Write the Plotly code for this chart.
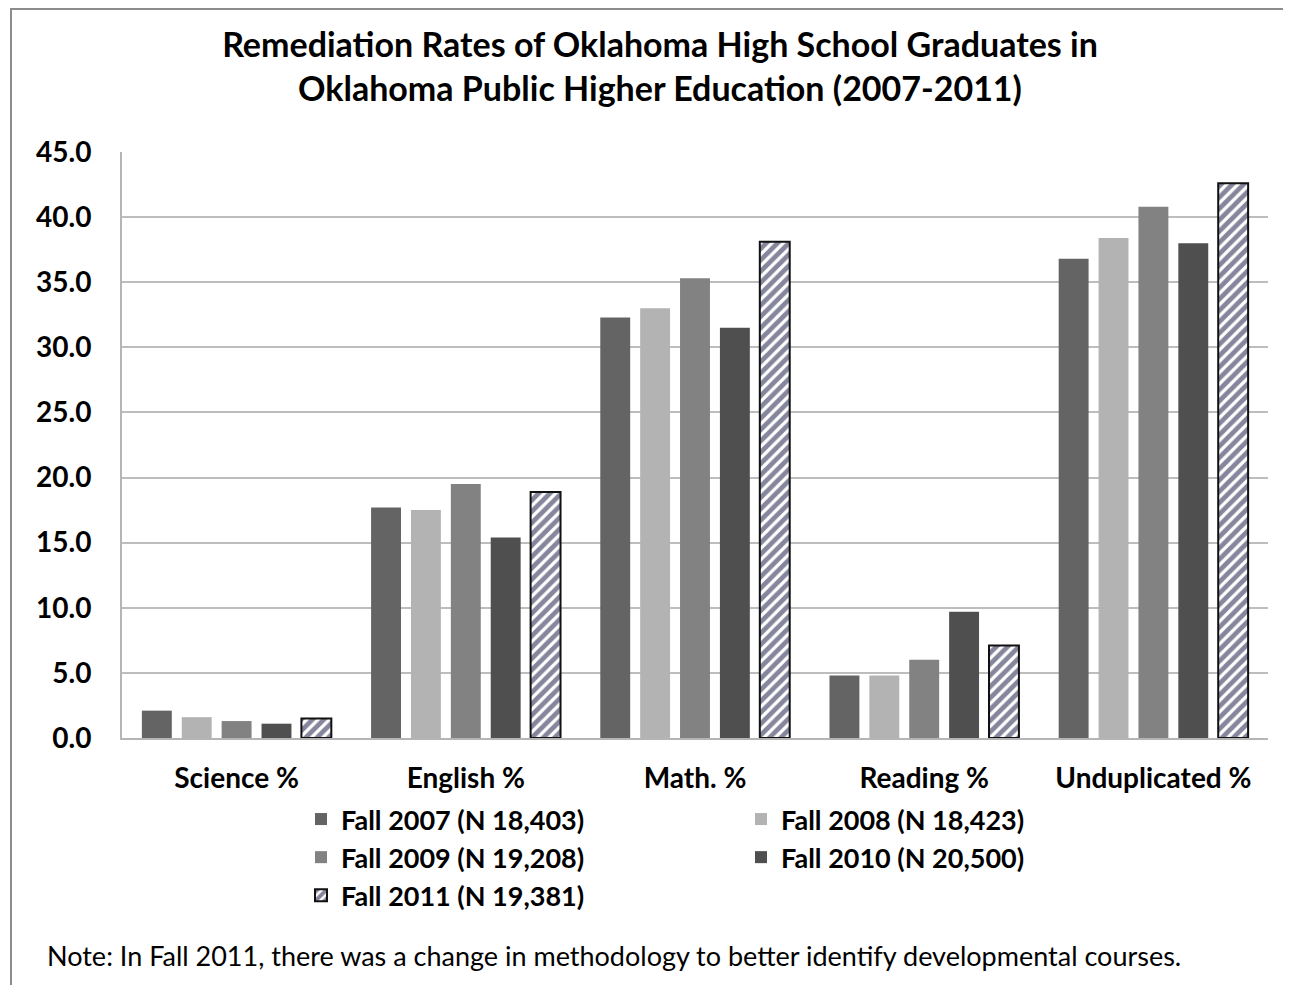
import plotly.graph_objects as go

categories = ["Science %", "English %", "Math. %", "Reading %", "Unduplicated %"]
series_names = [
    "Fall 2007 (N 18,403)",
    "Fall 2008 (N 18,423)",
    "Fall 2009 (N 19,208)",
    "Fall 2010 (N 20,500)",
    "Fall 2011 (N 19,381)",
]
fall_2007 = [2.1, 17.7, 32.3, 4.8, 36.8]
fall_2008 = [1.6, 17.5, 33.0, 4.8, 38.4]
fall_2009 = [1.3, 19.5, 35.3, 6.0, 40.8]
fall_2010 = [1.1, 15.4, 31.5, 9.7, 38.0]
fall_2011 = [1.5, 18.9, 38.1, 7.1, 42.6]
y_ticks = [0, 5, 10, 15, 20, 25, 30, 35, 40, 45]

title_text = "Remediation Rates of Oklahoma High School Graduates in<br>Oklahoma Public Higher Education (2007-2011)"
note_text = "Note: In Fall 2011, there was a change in methodology to better identify developmental courses."

FONT = "Lato"
OFF = 8  # page body margin
W, H = 1291 - OFF, 985 - OFF
PL, PR, PT, PB = 122 - OFF, 1268 - OFF, 152 - OFF, 738 - OFF
L, R, T, B = PL, W - PR, PT, H - PB
PW, PH = PR - PL, PB - PT


def px_x(x):
    return (x - OFF - PL) / PW


def px_y(y):
    return (PB - (y - OFF)) / PH


colors = ["#646464", "#b3b3b3", "#828282", "#4f4f4f"]
all_series = [fall_2007, fall_2008, fall_2009, fall_2010, fall_2011]

fig = go.Figure()
for i in range(4):
    fig.add_trace(go.Bar(
        x=categories, y=all_series[i], name=series_names[i],
        marker=dict(color=colors[i], line=dict(width=0)),
    ))
fig.add_trace(go.Bar(
    x=categories, y=all_series[4], name=series_names[4],
    marker=dict(
        color="white",
        line=dict(color="#111111", width=2),
        pattern=dict(shape="/", fgcolor="#0b0c3a", bgcolor="white", size=8, solidity=0.6),
    ),
))

fig.update_layout(
    width=W, height=H,
    margin=dict(l=L, r=R, t=T, b=B, autoexpand=False),
    paper_bgcolor="white", plot_bgcolor="white",
    barmode="group", bargap=0.13, bargroupgap=0.25,
    font=dict(family=FONT, color="#000000"),
    title=dict(text=title_text, xref="container", x=(660 - OFF) / W, xanchor="center",
               yref="container", y=0.950, yanchor="top",
               font=dict(family=FONT, size=34, color="#000000", weight="bold")),
    showlegend=True,
    legend=dict(
        orientation="h", x=px_x(301), xanchor="left", y=px_y(795), yanchor="top",
        entrywidth=395, entrywidthmode="pixels",
        font=dict(family=FONT, size=27, color="#000000", weight="bold"),
        traceorder="normal", itemsizing="constant",
    ),
    xaxis=dict(
        showgrid=False, showline=True, linecolor="#b5b5b5", linewidth=2,
        ticks="", tickfont=dict(family=FONT, size=28, color="#000000", weight="bold"),
        ticklabelstandoff=14,
    ),
    yaxis=dict(
        range=[0, 45], tickvals=y_ticks, tickformat=".1f",
        showgrid=True, gridcolor="#bdbdbd", gridwidth=2,
        showline=True, linecolor="#b5b5b5", linewidth=2, zeroline=False,
        ticks="", tickfont=dict(family=FONT, size=28, color="#000000", weight="bold"),
        ticklabelstandoff=23,
    ),
)

fig.add_annotation(
    text=note_text, xref="paper", yref="paper",
    x=px_x(45), xanchor="left",
    y=px_y(955), yanchor="middle",
    showarrow=False, font=dict(family=FONT, size=27, color="#000000"),
)

# outer frame (open at the bottom, as in the reference)
fig.add_shape(type="rect", xref="paper", yref="paper",
              x0=px_x(11), x1=px_x(1288),
              y0=px_y(1010), y1=px_y(9),
              line=dict(color="#8c8c8c", width=2), layer="below")

fig.write_html("out.html")
